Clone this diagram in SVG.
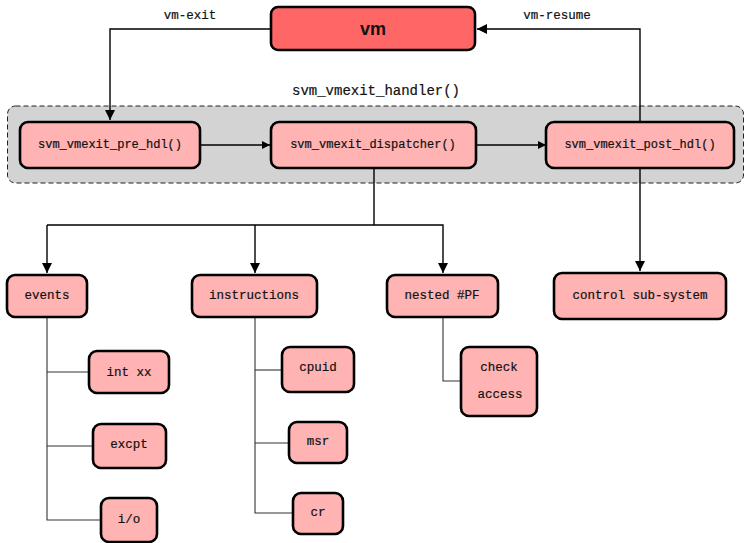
<svg xmlns="http://www.w3.org/2000/svg" width="744" height="543" viewBox="0 0 744 543">
  <style>
    .box { fill: #ffb3b3; stroke: #000; stroke-width: 2.6; }
    .vm { fill: #ff6666; stroke: #000; stroke-width: 2.6; }
    .grp { fill: #d3d3d3; stroke: #222; stroke-width: 1; stroke-dasharray: 5 3; }
    .lbl { font-family: "Liberation Mono", "DejaVu Sans Mono", monospace; font-size: 12.5px; fill: #111; stroke: #111; stroke-width: 0.2; text-anchor: middle; dominant-baseline: central; }
    .edge { fill: none; stroke: #000; stroke-width: 1.4; }
    .tree { fill: none; stroke: #333; stroke-width: 1.1; }
  </style>
  <defs>
    <marker id="arr" viewBox="0 0 10 10" refX="10" refY="5" markerWidth="8" markerHeight="8" markerUnits="userSpaceOnUse" orient="auto">
      <path d="M0,0 L10,5 L0,10 z" fill="#000"/>
    </marker>
    <marker id="arrBig" viewBox="0 0 10 10" refX="10" refY="5" markerWidth="10" markerHeight="10" markerUnits="userSpaceOnUse" orient="auto">
      <path d="M0,0 L10,5 L0,10 z" fill="#000"/>
    </marker>
  </defs>

  <!-- dashed handler group -->
  <g id="handler">
    <rect class="grp" x="7.5" y="106" width="736" height="77" rx="8"/>
    <text class="lbl" x="376" y="91" style="font-size:14px">svm_vmexit_handler()</text>
  </g>

  <!-- connectors -->
  <g id="connectors">
    <polyline class="edge" points="271,29 110,29 110,120" marker-end="url(#arrBig)"/>
    <polyline class="edge" points="640,122 640,29 477,29" marker-end="url(#arrBig)"/>
    <line class="edge" x1="200" y1="145" x2="270" y2="145" marker-end="url(#arr)"/>
    <line class="edge" x1="476" y1="145" x2="546" y2="145" marker-end="url(#arr)"/>
    <polyline class="edge" points="374,168 374,225"/>
    <polyline class="edge" points="47,225 443,225 443,273" marker-end="url(#arrBig)"/>
    <line class="edge" x1="47" y1="225" x2="47" y2="273" marker-end="url(#arrBig)"/>
    <line class="edge" x1="255" y1="225" x2="255" y2="273" marker-end="url(#arrBig)"/>
    <line class="edge" x1="640" y1="168" x2="640" y2="271" marker-end="url(#arrBig)"/>
    <!-- sub-category trees -->
    <polyline class="tree" points="47,317 47,520 101,520"/>
    <line class="tree" x1="47" y1="372" x2="89" y2="372"/>
    <line class="tree" x1="47" y1="446" x2="93" y2="446"/>
    <polyline class="tree" points="255,317 255,513 293,513"/>
    <line class="tree" x1="255" y1="370" x2="282" y2="370"/>
    <line class="tree" x1="255" y1="443" x2="289" y2="443"/>
    <polyline class="tree" points="443,317 443,381 461,381"/>
  </g>

  <g id="vm">
    <rect class="vm" x="271" y="7" width="204" height="43" rx="7"/>
    <text x="373" y="29" style="font-family:'Liberation Sans',Arial,sans-serif;font-size:18px;font-weight:bold;fill:#111" text-anchor="middle" dominant-baseline="central">vm</text>
  </g>
  <text class="lbl" x="190" y="16">vm-exit</text>
  <text class="lbl" x="557" y="16">vm-resume</text>

  <g id="pre_hdl">
    <rect class="box" x="20" y="122" width="180" height="46" rx="8"/>
    <text class="lbl" x="110" y="145" style="font-size:12px">svm_vmexit_pre_hdl()</text>
  </g>
  <g id="dispatcher">
    <rect class="box" x="271" y="122" width="205" height="46" rx="8"/>
    <text class="lbl" x="373" y="145" style="font-size:12px">svm_vmexit_dispatcher()</text>
  </g>
  <g id="post_hdl">
    <rect class="box" x="546" y="122" width="188" height="46" rx="8"/>
    <text class="lbl" x="640" y="145" style="font-size:12px">svm_vmexit_post_hdl()</text>
  </g>

  <g id="events">
    <rect class="box" x="7" y="275" width="80" height="42" rx="8"/>
    <text class="lbl" x="47" y="296">events</text>
  </g>
  <g id="instructions">
    <rect class="box" x="192" y="275" width="125" height="42" rx="8"/>
    <text class="lbl" x="254" y="296">instructions</text>
  </g>
  <g id="nested_pf">
    <rect class="box" x="387" y="275" width="111" height="42" rx="8"/>
    <text class="lbl" x="442" y="296">nested #PF</text>
  </g>
  <g id="control">
    <rect class="box" x="554" y="273" width="172" height="46" rx="8"/>
    <text class="lbl" x="640" y="296">control sub-system</text>
  </g>

  <g id="int_xx">
    <rect class="box" x="89" y="351" width="80" height="42" rx="8"/>
    <text class="lbl" x="129" y="373">int xx</text>
  </g>
  <g id="excpt">
    <rect class="box" x="93" y="424" width="73" height="44" rx="8"/>
    <text class="lbl" x="129" y="445">excpt</text>
  </g>
  <g id="io">
    <rect class="box" x="101" y="498" width="56" height="44" rx="8"/>
    <text class="lbl" x="129" y="520">i/o</text>
  </g>

  <g id="cpuid">
    <rect class="box" x="282" y="347" width="72" height="45" rx="8"/>
    <text class="lbl" x="318" y="368">cpuid</text>
  </g>
  <g id="msr">
    <rect class="box" x="289" y="422" width="58" height="41" rx="8"/>
    <text class="lbl" x="318" y="442">msr</text>
  </g>
  <g id="cr">
    <rect class="box" x="293" y="493" width="50" height="41" rx="8"/>
    <text class="lbl" x="318" y="513">cr</text>
  </g>

  <g id="check_access">
    <rect class="box" x="461" y="347" width="76" height="69" rx="8"/>
    <text class="lbl" x="499" y="368">check</text>
    <text class="lbl" x="500" y="395">access</text>
  </g>
</svg>
